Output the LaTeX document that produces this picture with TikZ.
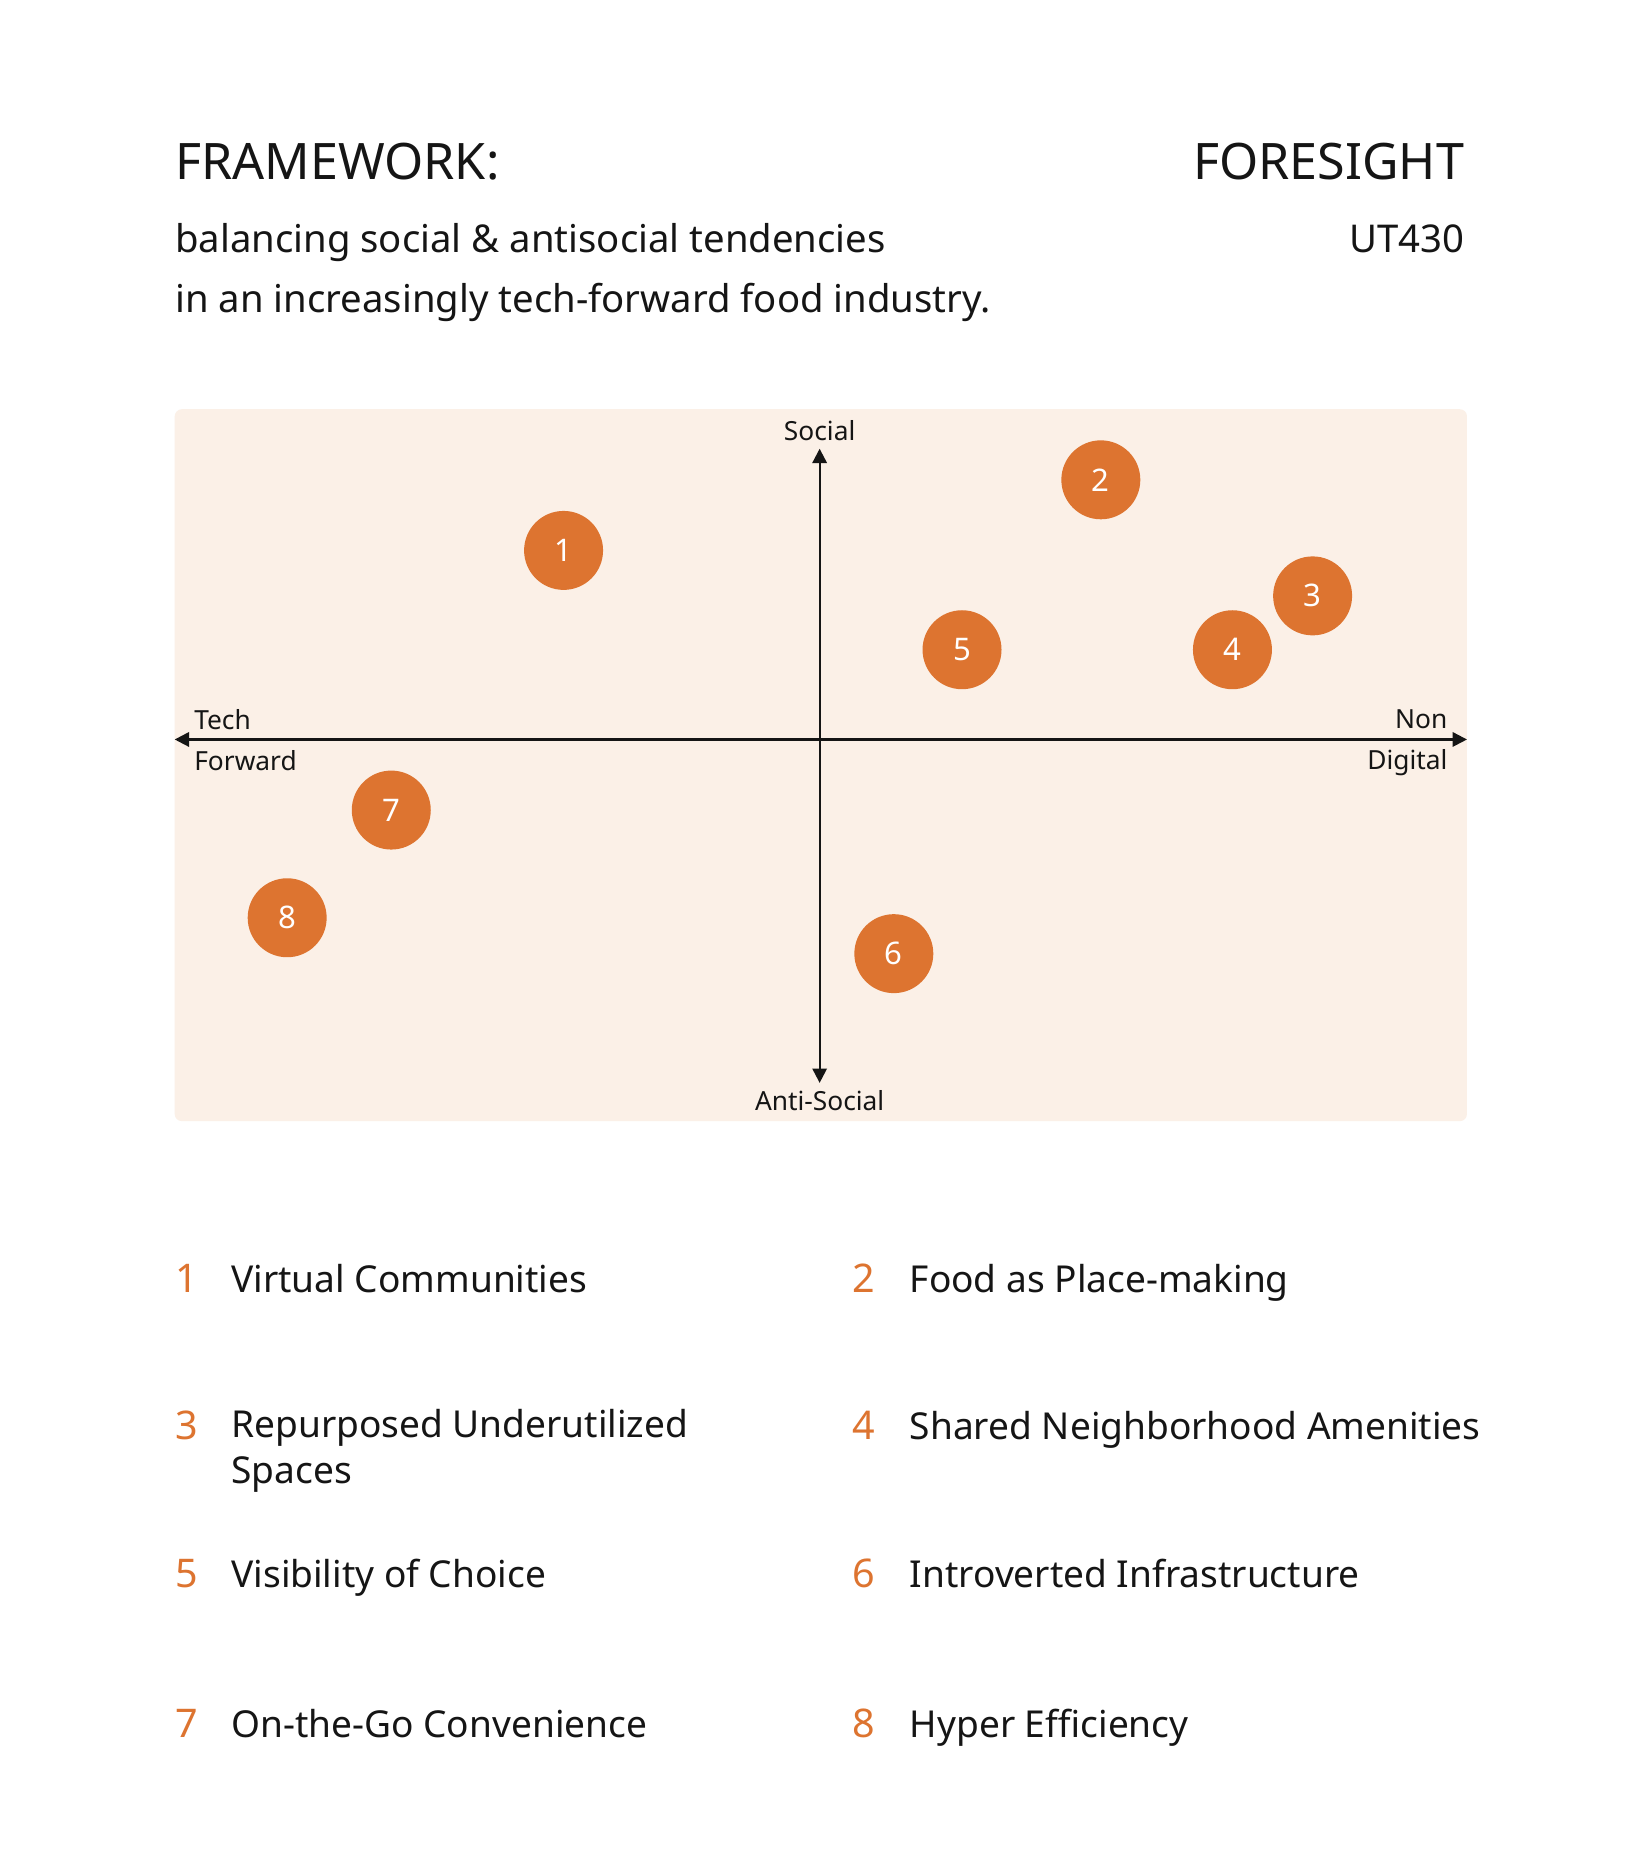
\documentclass[tikz,border=0pt]{standalone}
\usepackage{fontspec}
\setmainfont{Noto Sans}
\usetikzlibrary{arrows.meta}
\definecolor{org}{HTML}{DD7430}
\definecolor{panel}{HTML}{FBF0E7}
\definecolor{ink}{HTML}{151515}
\tikzset{
 dot/.style={circle,fill=org,minimum size=33pt,inner sep=0pt,text=white,font=\fontsize{13}{13}\selectfont\bfseries},
 axlab/.style={font=\fontsize{11}{11}\selectfont\bfseries,text=ink,inner sep=0pt},
 num/.style={anchor=base west,font=\fontsize{16.5}{16.5}\selectfont,text=org,inner sep=0pt},
 item/.style={anchor=base west,font=\fontsize{15.5}{19.5}\selectfont,text=ink,inner sep=0pt,align=left},
 axis/.style={ink,line width=0.9pt,-{Triangle[length=6pt,width=6pt]}}
}
\begin{document}
\begin{tikzpicture}[x=0.5pt,y=-0.5pt]
\useasboundingbox (0,0) rectangle (1366,1562);
\fill[white] (0,0) rectangle (1366,1562);
\node[anchor=base west,inner sep=0pt,font=\fontsize{21}{21}\selectfont\bfseries,text=ink] (t1) at (146,150) {FRAMEWORK:};
\node[anchor=base east,inner sep=0pt,font=\fontsize{21}{21}\selectfont\bfseries,text=ink] (t2) at (1224,150) {FORESIGHT};
\node[anchor=base west,inner sep=0pt,font=\fontsize{16}{16}\selectfont,text=ink] (s1) at (146,211) {balancing social \& antisocial tendencies};
\node[anchor=base west,inner sep=0pt,font=\fontsize{16}{16}\selectfont,text=ink] (s2) at (146,261) {in an increasingly tech-forward food industry.};
\node[anchor=base east,inner sep=0pt,font=\fontsize{16}{16}\selectfont,text=ink] (s3) at (1224,211) {UT430};
\fill[panel,rounded corners=3pt] (146,342) rectangle (1226,937);
\coordinate (L) at (146,618); \coordinate (R) at (1226,618);
\coordinate (C) at (685,618); \coordinate (T) at (685,375); \coordinate (B) at (685,905);
\draw[axis] (C) -- (L); \draw[axis] (C) -- (R);
\draw[axis] (C) -- (T); \draw[axis] (C) -- (B);
\node[axlab] (ls) at (685,360) {Social};
\node[axlab] (la) at (685,920) {Anti-Social};
\node[axlab,anchor=west] (lt) at (162,601) {Tech};
\node[axlab,anchor=west] (lf) at (162,636) {Forward};
\node[axlab,anchor=east] (ln) at (1210,601) {Non};
\node[axlab,anchor=east] (ld) at (1210,637) {Digital};
\node[dot] (c1) at (471,460) {1};
\node[dot] (c2) at (920,401) {2};
\node[dot] (c3) at (1097,498) {3};
\node[dot] (c4) at (1030,543) {4};
\node[dot] (c5) at (804,543) {5};
\node[dot] (c6) at (747,797) {6};
\node[dot] (c7) at (327,677) {7};
\node[dot] (c8) at (240,767) {8};
\node[num] (n1) at (146,1080) {1}; \node[item] (i1) at (193,1080) {Virtual Communities};
\node[num] (n2) at (712,1080) {2}; \node[item] (i2) at (760,1080) {Food as Place-making};
\node[num] (n3) at (146,1203) {3}; \node[item,anchor=north west] (i3) at (193,1177) {Repurposed Underutilized\\Spaces};
\node[num] (n4) at (712,1203) {4}; \node[item] (i4) at (760,1203) {Shared Neighborhood Amenities};
\node[num] (n5) at (146,1327) {5}; \node[item] (i5) at (193,1327) {Visibility of Choice};
\node[num] (n6) at (712,1327) {6}; \node[item] (i6) at (760,1327) {Introverted Infrastructure};
\node[num] (n7) at (146,1452) {7}; \node[item] (i7) at (193,1452) {On-the-Go Convenience};
\node[num] (n8) at (712,1452) {8}; \node[item] (i8) at (760,1452) {Hyper Efficiency};
\end{tikzpicture}
\end{document}
